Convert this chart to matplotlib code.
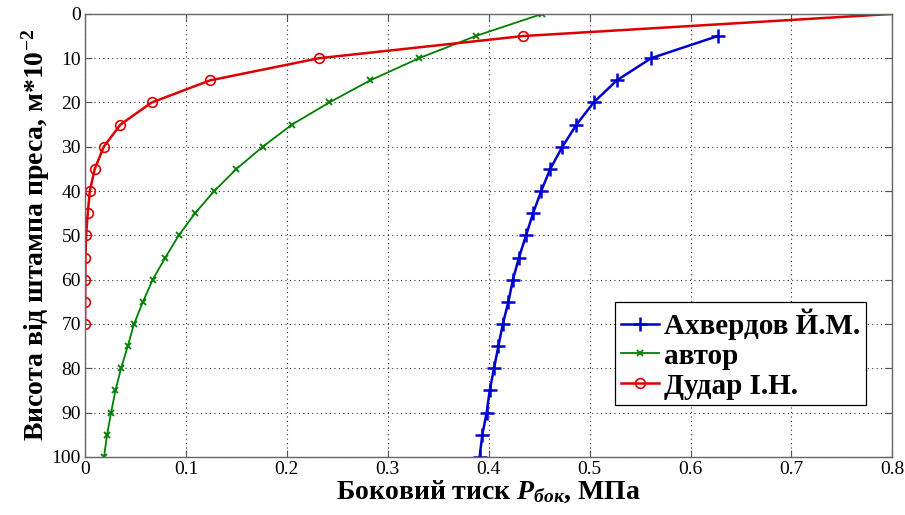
import matplotlib
matplotlib.use("Agg")
import matplotlib.pyplot as plt

plt.rcParams["font.family"] = "Liberation Serif"
plt.rcParams["mathtext.fontset"] = "custom"
plt.rcParams["mathtext.rm"] = "Liberation Serif:bold"
plt.rcParams["mathtext.it"] = "Liberation Serif:italic:bold"
plt.rcParams["mathtext.bf"] = "Liberation Serif:bold"

# висота, м*10^-2
h_akhv = [5, 10, 15, 20, 25, 30, 35, 40, 45, 50, 55, 60, 65, 70, 75, 80, 85, 90, 95, 100]
p_akhv = [0.627, 0.561, 0.527, 0.504, 0.487, 0.473, 0.461, 0.452, 0.444, 0.437,
          0.430, 0.424, 0.4195, 0.414, 0.4096, 0.4053, 0.401, 0.398, 0.3937, 0.391]

h_avtor = [0, 5, 10, 15, 20, 25, 30, 35, 40, 45, 50, 55, 60, 65, 70, 75, 80, 85, 90, 95, 100]
p_avtor = [0.453, 0.387, 0.331, 0.2826, 0.242, 0.205, 0.176, 0.150, 0.128, 0.109, 0.0928,
           0.0796, 0.067, 0.0574, 0.0485, 0.0423, 0.0357, 0.0301, 0.0258, 0.0218, 0.0188]

h_dudar = [0, 5, 10, 15, 20, 25, 30, 35, 40, 45, 50, 55, 60, 65, 70]
p_dudar = [0.8, 0.434, 0.232, 0.124, 0.066, 0.035, 0.0185, 0.0096, 0.0047, 0.0027,
           0.001, 0.0004, 0.0002, 0.0001, 0.0]

fig = plt.figure(figsize=(9.05, 5.15), dpi=100)
ax = fig.add_axes([0.094, 0.113, 0.892, 0.86])

ax.plot(p_akhv, h_akhv, color="#0000cc", lw=1.8, marker="+", ms=10, mew=1.8,
        label="Ахвердов Й.М.")
ax.plot(p_avtor, h_avtor, color="#008000", lw=1.3, marker="x", ms=5, mew=1.3,
        label="автор")
ax.plot(p_dudar, h_dudar, color="#dd0000", lw=1.8, marker="o", ms=7, mew=1.2,
        mfc="none", markevery=list(range(1, len(h_dudar))), label="Дудар І.Н.")

ax.set_xlim(0, 0.8)
ax.set_ylim(100, 0)
ax.set_xticks([0, 0.1, 0.2, 0.3, 0.4, 0.5, 0.6, 0.7, 0.8])
ax.set_xticklabels(["0", "0.1", "0.2", "0.3", "0.4", "0.5", "0.6", "0.7", "0.8"])
ax.set_yticks(range(0, 101, 10))
ax.tick_params(direction="in", top=True, right=True, labelsize=14, length=5,
               color="#555555", pad=3)
ax.grid(True, ls=(0, (1, 3)), color="#333333", lw=0.8)
for s in ax.spines.values():
    s.set_color("#666666")
    s.set_linewidth(1.0)

ax.set_xlabel("Боковий тиск $\\mathit{P}_{\\mathit{бок}}$, МПа", fontsize=20,
              fontweight="bold", labelpad=0)
ax.set_ylabel("Висота від штампа преса, м*10$^{\\mathbf{-2}}$", fontsize=20,
              fontweight="bold", labelpad=0)

leg = ax.legend(loc="lower right", bbox_to_anchor=(0.967, 0.116),
                prop={"family": "Liberation Serif", "weight": "bold", "size": 21},
                fancybox=False, edgecolor="black", framealpha=1,
                handlelength=1.3, handletextpad=0.17, borderpad=0.2, labelspacing=0.1,
                borderaxespad=0)
leg.get_frame().set_linewidth(0.9)

fig.savefig("out.png", dpi=100)
